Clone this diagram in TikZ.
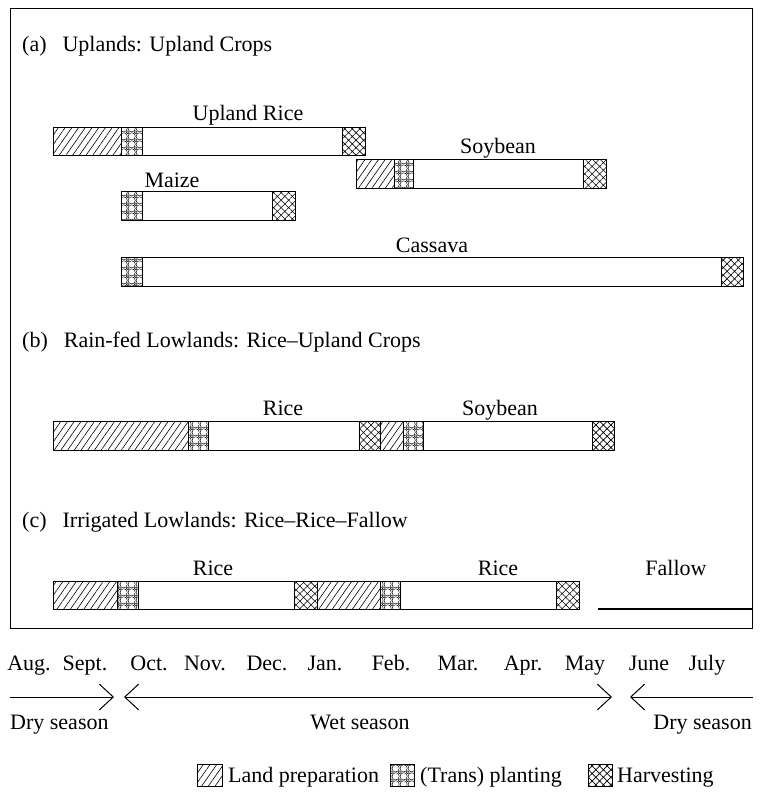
\documentclass[tikz,border=0pt]{standalone}
\usepackage{fontspec}
\setmainfont{Liberation Serif}
\usetikzlibrary{patterns.meta,arrows.meta}

\tikzdeclarepattern{
  name=plantpat,
  type=uncolored,
  bounding box={(0pt,0pt) and (8pt,8pt)},
  tile size={(8pt,8pt)},
  code={
    \pgfsetlinewidth{0.5pt}
    \pgfpathcircle{\pgfpoint{4pt}{4pt}}{3.9pt}
    \pgfusepath{stroke}
    \pgfsetlinewidth{0.4pt}
    \pgfpathcircle{\pgfpoint{0pt}{0pt}}{1.2pt}
    \pgfpathcircle{\pgfpoint{8pt}{0pt}}{1.2pt}
    \pgfpathcircle{\pgfpoint{0pt}{8pt}}{1.2pt}
    \pgfpathcircle{\pgfpoint{8pt}{8pt}}{1.2pt}
    \pgfusepath{stroke}
  }
}

\tikzset{
  lbl/.style={inner sep=0pt, anchor=base, font=\fontsize{22}{26}\selectfont},
  hdr/.style={inner sep=0pt, anchor=base west, font=\fontsize{22}{26}\selectfont},
  bar/.style={draw, line width=1pt},
  prep/.style={draw, line width=0.8pt, pattern={Lines[angle=55,distance=5.5pt,line width=0.6pt]}},
  plant/.style={draw, line width=0.8pt, pattern=plantpat},
  harv/.style={draw, line width=0.8pt, pattern={Hatch[angle=45,distance=5.3pt,line width=0.6pt]}},
  season/.style={line width=1pt, arrows={-Straight Barb[length=14pt,width=26pt,line width=1pt]}},
  seasonboth/.style={line width=1pt, arrows={Straight Barb[length=14pt,width=26pt,line width=1pt]-Straight Barb[length=14pt,width=26pt,line width=1pt]}},
}

\begin{document}
\begin{tikzpicture}[x=1pt,y=-1pt]
\useasboundingbox (0,0) rectangle (763,796);

% frame
\draw[line width=1pt] (10,8) rectangle (752,628);

% (a)
\node[hdr] (ha) at (22,51) {(a)\hspace{16pt}Uplands: Upland Crops};

\node[lbl] (lur) at (248,120) {Upland Rice};
\draw[bar] (53,127) rectangle (365,155);
\draw[prep] (53,127) rectangle (121,155);
\draw[plant] (121,127) rectangle (142,155);
\draw[harv] (342,127) rectangle (365,155);

\node[lbl] (lsa) at (498,153) {Soybean};
\draw[bar] (356,159) rectangle (606,188);
\draw[prep] (356,159) rectangle (394,188);
\draw[plant] (394,159) rectangle (413,188);
\draw[harv] (583,159) rectangle (606,188);

\node[lbl] (lma) at (172,187) {Maize};
\draw[bar] (121,191) rectangle (295,220);
\draw[plant] (121,191) rectangle (142,220);
\draw[harv] (272,191) rectangle (295,220);

\node[lbl] (lca) at (432,252) {Cassava};
\draw[bar] (121,257) rectangle (743,286);
\draw[plant] (121,257) rectangle (142,286);
\draw[harv] (721,257) rectangle (743,286);

% (b)
\node[hdr] (hb) at (22,347) {(b)\hspace{16pt}Rain-fed Lowlands: Rice--Upland Crops};
\node[lbl] (lrb) at (283,415) {Rice};
\node[lbl] (lsb) at (500,415) {Soybean};
\draw[bar] (53,421) rectangle (614,450);
\draw[prep] (53,421) rectangle (188,450);
\draw[plant] (188,421) rectangle (208,450);
\draw[harv] (359,421) rectangle (380,450);
\draw[prep] (380,421) rectangle (403,450);
\draw[plant] (403,421) rectangle (423,450);
\draw[harv] (592,421) rectangle (614,450);

% (c)
\node[hdr] (hc) at (22,527) {(c)\hspace{16pt}Irrigated Lowlands: Rice--Rice--Fallow};
\node[lbl] (lrc1) at (213,575) {Rice};
\node[lbl] (lrc2) at (498,575) {Rice};
\node[lbl] (lfc) at (676,575) {Fallow};
\draw[bar] (53,581) rectangle (579,609);
\draw[prep] (53,581) rectangle (117,609);
\draw[plant] (117,581) rectangle (138,609);
\draw[harv] (294,581) rectangle (317,609);
\draw[prep] (317,581) rectangle (380,609);
\draw[plant] (380,581) rectangle (400,609);
\draw[harv] (556,581) rectangle (579,609);
\coordinate (f1) at (598,609);
\coordinate (f2) at (752,609);
\draw[line width=1.5pt] (f1) -- (f2);

% months
\node[lbl] (m1) at (29,670) {Aug.};
\node[lbl] (m2) at (85,670) {Sept.};
\node[lbl] (m3) at (149,670) {Oct.};
\node[lbl] (m4) at (205,670) {Nov.};
\node[lbl] (m5) at (267,670) {Dec.};
\node[lbl] (m6) at (325,670) {Jan.};
\node[lbl] (m7) at (391,670) {Feb.};
\node[lbl] (m8) at (458,670) {Mar.};
\node[lbl] (m9) at (523,670) {Apr.};
\node[lbl] (m10) at (585,670) {May};
\node[lbl] (m11) at (649,670) {June};
\node[lbl] (m12) at (707,670) {July};

% season arrows
\coordinate (s1) at (10,697);
\coordinate (s2) at (114,697);
\coordinate (s3) at (124,697);
\coordinate (s4) at (612,697);
\coordinate (s5) at (630,697);
\coordinate (s6) at (753,697);
\draw[season] (s1) -- (s2);
\draw[seasonboth] (s3) -- (s4);
\draw[season] (s6) -- (s5);

\node[hdr] (d1) at (10,729) {Dry season};
\node[lbl] (w1) at (360,729) {Wet season};
\node[lbl, anchor=base east] (d2) at (752,729) {Dry season};

% legend
\draw[prep] (197,764) rectangle (222,786);
\node[hdr] (tl1) at (228,782) {Land preparation};
\draw[plant] (390,764) rectangle (414,786);
\node[hdr] (tl2) at (420,782) {(Trans) planting};
\draw[harv] (588,764) rectangle (612,786);
\node[hdr] (tl3) at (617,782) {Harvesting};
\end{tikzpicture}
\end{document}
